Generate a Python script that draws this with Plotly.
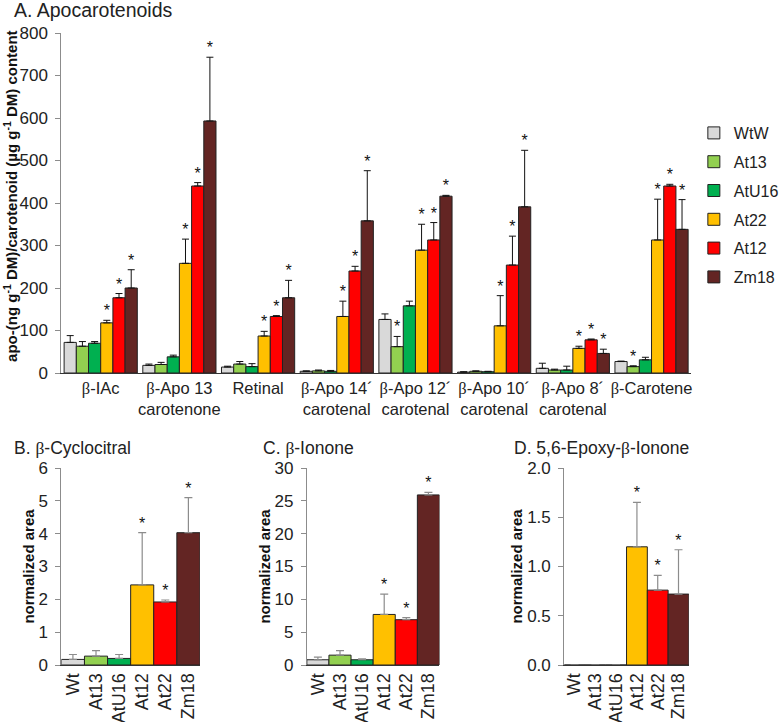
import plotly.graph_objects as go

# ---------------- Panel A data ----------------
groups_A = ["β-IAc", "β-Apo 13<br>carotenone", "Retinal", "β-Apo 14´<br>carotenal",
            "β-Apo 12´<br>carotenal", "β-Apo 10´<br>carotenal", "β-Apo 8´<br>carotenal", "β-Carotene"]
lines_A = ["WtW", "At13", "AtU16", "At22", "At12", "Zm18"]
colors = ["#d9d9d9", "#92d050", "#00b050", "#ffc000", "#ff0000", "#632523"]

wtw_vals = [72, 18, 14, 4, 126, 2, 11, 27]
at13_vals = [63, 20, 21, 5, 62, 4, 7, 15]
atu16_vals = [70, 38, 15, 4, 158, 3, 7, 31]
at22_vals = [118, 258, 87, 133, 289, 111, 58, 313]
at12_vals = [177, 440, 133, 240, 313, 254, 78, 440]
zm18_vals = [200, 593, 177, 358, 416, 391, 46, 338]

wtw_err = [16, 3, 2, 1, 13, 1, 12, 1]
at13_err = [11, 5, 6, 2, 24, 1, 2, 2]
atu16_err = [4, 4, 7, 2, 11, 1, 9, 6]
at22_err = [6, 57, 11, 36, 61, 71, 5, 96]
at12_err = [10, 8, 2, 11, 41, 68, 2, 4]
zm18_err = [43, 150, 41, 118, 2, 133, 10, 70]

wtw_sig = [0, 0, 0, 0, 0, 0, 0, 0]
at13_sig = [0, 0, 0, 0, 1, 0, 0, 1]
atu16_sig = [0, 0, 0, 0, 0, 0, 0, 0]
at22_sig = [1, 1, 1, 1, 1, 1, 1, 1]
at12_sig = [1, 1, 1, 1, 1, 1, 1, 1]
zm18_sig = [1, 1, 1, 1, 1, 1, 1, 1]

# ---------------- Panels B-D data ----------------
labels_BCD = ["Wt", "At13", "AtU16", "At12", "At22", "Zm18"]
cyclocitral_vals = [0.17, 0.27, 0.20, 2.44, 1.92, 4.03]
cyclocitral_err = [0.15, 0.17, 0.12, 1.59, 0.06, 1.07]
ionone_vals = [0.8, 1.5, 0.8, 7.7, 6.9, 25.9]
ionone_err = [0.4, 0.7, 0.15, 3.1, 0.3, 0.4]
epoxy_vals = [0, 0, 0, 1.2, 0.76, 0.72]
epoxy_err = [0, 0, 0, 0.45, 0.15, 0.45]
sig_BCD = [0, 0, 0, 1, 1, 1]

FONT = "Liberation Sans, Arial, sans-serif"
W, H = 784, 722


def beta(s):
    return s.replace("β", '<span style="font-family:Liberation Serif">β</span>')


def px_x(p):
    return p / W


def px_y(p):
    return 1 - p / H


fig = go.Figure()

vals_list = [wtw_vals, at13_vals, atu16_vals, at22_vals, at12_vals, zm18_vals]
err_list = [wtw_err, at13_err, atu16_err, at22_err, at12_err, zm18_err]
sig_list = [wtw_sig, at13_sig, atu16_sig, at22_sig, at12_sig, zm18_sig]

bw = 0.155
for i, name in enumerate(lines_A):
    xs = [g + (i - 2.5) * bw for g in range(len(groups_A))]
    fig.add_trace(go.Bar(
        x=xs, y=vals_list[i], width=bw, name=name, legendgroup=name,
        marker=dict(color=colors[i], line=dict(color="#222222", width=1)),
        error_y=dict(type="data", array=err_list[i], symmetric=False, arrayminus=[0] * 8,
                     color="#111111", thickness=1, width=3.5),
        xaxis="x", yaxis="y", showlegend=True))
    sx = [x for x, s in zip(xs, sig_list[i]) if s]
    sy = [v + e for v, e, s in zip(vals_list[i], err_list[i], sig_list[i]) if s]
    if sx:
        fig.add_trace(go.Scatter(x=sx, y=sy, mode="text", text=["*"] * len(sx),
                                 textposition="top center",
                                 textfont=dict(family=FONT, size=16, color="#111111"),
                                 xaxis="x", yaxis="y", showlegend=False, hoverinfo="skip"))

panels = [
    (cyclocitral_vals, cyclocitral_err, "2"),
    (ionone_vals, ionone_err, "3"),
    (epoxy_vals, epoxy_err, "4"),
]
for vals, errs, ax in panels:
    xs = list(range(len(labels_BCD)))
    fig.add_trace(go.Bar(
        x=xs, y=vals, width=1,
        marker=dict(color=colors, line=dict(color="#222222", width=1)),
        error_y=dict(type="data", array=errs, symmetric=False, arrayminus=[0] * 6,
                     color="#8c8c8c", thickness=1.2, width=4),
        xaxis="x" + ax, yaxis="y" + ax, showlegend=False))
    sx = [x for x, s in zip(xs, sig_BCD) if s]
    sy = [v + e for v, e, s in zip(vals, errs, sig_BCD) if s]
    fig.add_trace(go.Scatter(x=sx, y=sy, mode="text", text=["*"] * len(sx),
                             textposition="top center",
                             textfont=dict(family=FONT, size=16, color="#111111"),
                             xaxis="x" + ax, yaxis="y" + ax, showlegend=False, hoverinfo="skip"))

tickfont = dict(family=FONT, size=17, color="#222222")
xtickfont = dict(family=FONT, size=18, color="#222222")
yax_common = dict(showline=True, linecolor="#8c8c8c", linewidth=1, ticks="outside",
                  ticklen=5, tickcolor="#8c8c8c", showgrid=False, zeroline=False,
                  tickfont=tickfont, ticklabelstandoff=4, automargin=False)
xax_common = dict(showline=True, linecolor="#333333", linewidth=1, ticks="",
                  showgrid=False, zeroline=False, automargin=False)
ytitle = dict(text="<b>normalized area</b>", font=dict(family=FONT, size=15, color="#111111"),
              standoff=0)

fig.update_layout(
    template="none",
    width=W, height=H, margin=dict(l=0, r=0, t=0, b=0, pad=0),
    paper_bgcolor="white", plot_bgcolor="white",
    barmode="overlay",
    font=dict(family=FONT, color="#222222"),
    xaxis=dict(domain=[px_x(62), px_x(698)], range=[-0.5, 7.5], anchor="y",
               tickmode="array", tickvals=list(range(8)),
               ticktext=[beta(g) for g in groups_A],
               tickfont=dict(family=FONT, size=16.5, color="#222222"), **xax_common),
    yaxis=dict(domain=[px_y(373), px_y(33)], range=[0, 800], dtick=100, anchor="x",
               **yax_common),
    xaxis2=dict(domain=[px_x(62), px_x(202)], range=[-0.5, 5.5], anchor="y2",
                tickmode="array", tickvals=list(range(6)), ticktext=labels_BCD,
                tickangle=-90, tickfont=xtickfont, **xax_common),
    yaxis2=dict(domain=[px_y(665), px_y(468)], range=[0, 6], dtick=1, anchor="x2",
                title=ytitle, **yax_common),
    xaxis3=dict(domain=[px_x(310), px_x(444)], range=[-0.5, 5.5], anchor="y3",
                tickmode="array", tickvals=list(range(6)), ticktext=labels_BCD,
                tickangle=-90, tickfont=xtickfont, **xax_common),
    yaxis3=dict(domain=[px_y(665), px_y(468)], range=[0, 30], dtick=5, anchor="x3",
                title=ytitle, **yax_common),
    xaxis4=dict(domain=[px_x(570), px_x(696)], range=[-0.5, 5.5], anchor="y4",
                tickmode="array", tickvals=list(range(6)), ticktext=labels_BCD,
                tickangle=-90, tickfont=xtickfont, **xax_common),
    yaxis4=dict(domain=[px_y(665), px_y(468)], range=[0, 2], dtick=0.5, tickformat=".1f",
                anchor="x4", title=ytitle, **yax_common),
    legend=dict(x=px_x(701), y=px_y(116), xanchor="left", yanchor="top",
                font=dict(family=FONT, size=16, color="#222222"),
                bgcolor="rgba(0,0,0,0)", tracegroupgap=5, itemwidth=30),
    showlegend=True,
)

fig.add_annotation(text="A. Apocarotenoids", x=px_x(12), y=px_y(10), xref="paper", yref="paper",
                   xanchor="left", yanchor="middle", showarrow=False,
                   font=dict(family=FONT, size=19.5, color="#222222"))
sub_font = dict(family=FONT, size=17.5, color="#222222")
fig.add_annotation(text=beta("B. β-Cyclocitral"), x=px_x(12), y=px_y(448), xref="paper", yref="paper",
                   xanchor="left", yanchor="middle", showarrow=False, font=sub_font)
fig.add_annotation(text=beta("C. β-Ionone"), x=px_x(264), y=px_y(448), xref="paper", yref="paper",
                   xanchor="left", yanchor="middle", showarrow=False, font=sub_font)
fig.add_annotation(text=beta("D. 5,6-Epoxy-β-Ionone"), x=px_x(517), y=px_y(448), xref="paper", yref="paper",
                   xanchor="left", yanchor="middle", showarrow=False, font=sub_font)
fig.add_annotation(text="<b>apo-(ng g<sup>-1</sup> DM)/carotenoid (µg g<sup>-1</sup> DM) content</b>",
                   x=px_x(10), y=px_y(196), xref="paper", yref="paper", textangle=-90,
                   xanchor="center", yanchor="middle", showarrow=False,
                   font=dict(family=FONT, size=15, color="#111111"))

fig.write_html("out.html", config={"displayModeBar": False},
               post_script="document.body.style.margin='0';document.documentElement.style.overflow='hidden';")
